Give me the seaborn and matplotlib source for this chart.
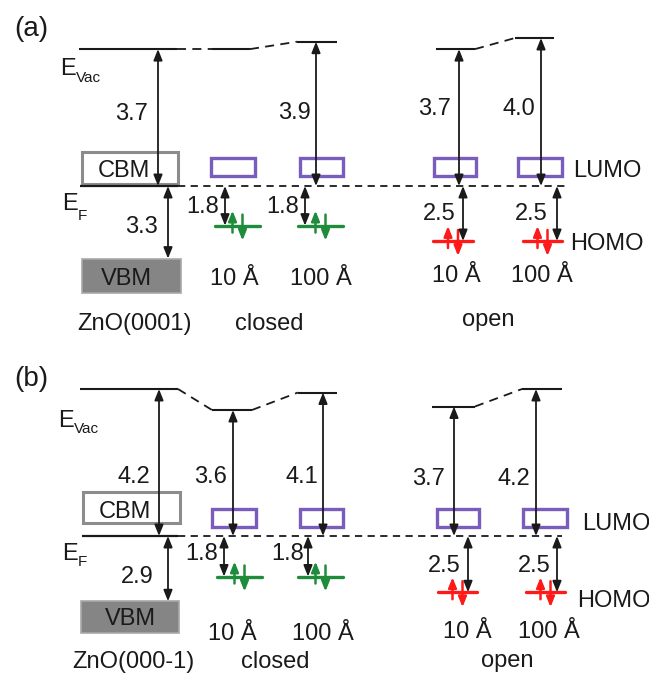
import numpy as np
import pandas as pd
import matplotlib
matplotlib.use("Agg")
import matplotlib.pyplot as plt
from matplotlib.patches import Rectangle
from matplotlib.transforms import offset_copy
import seaborn as sns

sns.set_theme(style="white")
plt.rcParams["font.family"] = ["Liberation Sans", "DejaVu Sans"]

# ---------------- energy values (eV) ----------------
stacks = ["ZnO", "closed", "closed", "open", "open"]
thickness_labels = ["10 Å", "100 Å", "10 Å", "100 Å"]
group_labels = ["closed", "open"]
work_fn_a = [3.7, 3.7, 3.9, 3.7, 4.0]      # E_vac - E_F
work_fn_b = [4.2, 3.6, 4.1, 3.7, 4.2]
homo_a = [1.8, 1.8, 2.5, 2.5]              # E_F - HOMO
homo_b = [1.8, 1.8, 2.5, 2.5]
vbm_a = 3.3                                # E_F - VBM
vbm_b = 2.9
substrate_a = "ZnO(0001)"
substrate_b = "ZnO(000-1)"

# ---------------- styling ----------------
PURPLE = "#7a5cbd"
GREEN = "#1e8c3a"
RED = "#ff1a1a"
FS = 17
W, H = 649, 674

fig = plt.figure(figsize=(W / 100, H / 100), dpi=100)

LUMO_RANGE = (0.27, 0.76)


def label(x, row, s, **kw):
    kw.setdefault("fontsize", FS)
    kw.setdefault("va", "baseline")
    fig.text(x / W, 1 - row / H, s, color="k", **kw)


def arrow(ax, x, e0, e1):
    ax.annotate("", xy=(x, e1), xytext=(x, e0),
                arrowprops=dict(arrowstyle="<|-|>,head_length=0.55,head_width=0.22",
                                mutation_scale=12, color="k", lw=1.3,
                                shrinkA=0, shrinkB=0))


def spin(ax, x, e, color, up):
    start, end = (-7, 15) if up else (11, -15)
    ax.annotate("", xy=(x, e),
                xycoords=offset_copy(ax.transData, x=0, y=end, units="dots"),
                xytext=(0, start - end), textcoords="offset pixels",
                arrowprops=dict(arrowstyle="-|>,head_length=0.6,head_width=0.24",
                                mutation_scale=10, color=color, lw=1.8,
                                shrinkA=0, shrinkB=0))


def draw_panel(p):
    top, bot = p["rows"]
    s_up, s_low = p["scale"]
    ef_row = p["ef_row"]
    ax = fig.add_axes([0, 1 - bot / H, 1, (bot - top) / H])

    def fwd(e):
        e = np.asarray(e, dtype=float)
        return np.where(e >= 0, e * s_up, e * s_low)

    def inv(t):
        t = np.asarray(t, dtype=float)
        return np.where(t >= 0, t / s_up, t / s_low)

    ax.set_yscale("function", functions=(fwd, inv))
    wf = p["wf"]
    homo = p["homo"]
    vbm = p["vbm"]

    # vacuum levels and their dashed connectors
    for i, (x0, x1) in enumerate(p["evac_x"]):
        ax.plot([x0, x1], [wf[i], wf[i]], color="k", lw=1.5, solid_capstyle="butt")
    for i, j in [(0, 1), (1, 2), (3, 4)]:
        ax.plot([p["evac_x"][i][1], p["evac_x"][j][0]], [wf[i], wf[j]],
                color="k", lw=1.3, ls=(0, (5, 3.5)))

    # Fermi level
    xs0, xs1 = p["ef_solid"]
    ax.plot([xs0, xs1], [0, 0], color="k", lw=1.6, solid_capstyle="butt")
    xd0, xd1 = p["ef_dash"]
    ax.plot([xd0, xd1], [0, 0], color="k", lw=1.3, ls=(0, (4, 3)))

    # ZnO bands
    cx0, cx1 = p["cbm_x"]
    c0, c1 = p["cbm_e"]
    ax.add_patch(Rectangle((cx0, c0), cx1 - cx0, c1 - c0, fill=False,
                           ec="#8c8c8c", lw=2.2))
    vx0, vx1 = p["vbm_x"]
    ax.add_patch(Rectangle((vx0, p["vbm_bottom"]), vx1 - vx0,
                           -vbm - p["vbm_bottom"], fc="#858585", ec="#a8a8a8", lw=1.2))

    # LUMO boxes
    for x0, x1 in p["lumo_x"]:
        ax.add_patch(Rectangle((x0, LUMO_RANGE[0]), x1 - x0,
                               LUMO_RANGE[1] - LUMO_RANGE[0], fill=False,
                               ec=PURPLE, lw=2.4))

    # HOMO levels
    rows = []
    for k, ((x0, x1), g) in enumerate(zip(p["homo_x"], homo)):
        kind = stacks[k + 1]
        rows += [dict(x=x0, E=-g, seg=k, kind=kind), dict(x=x1, E=-g, seg=k, kind=kind)]
    df = pd.DataFrame(rows)
    sns.lineplot(data=df, x="x", y="E", hue="kind", units="seg", estimator=None,
                 palette={"closed": GREEN, "open": RED}, lw=2.4, legend=False, ax=ax)
    for k, ((x0, x1), g) in enumerate(zip(p["homo_x"], homo)):
        col = GREEN if stacks[k + 1] == "closed" else RED
        xc = (x0 + x1) / 2
        spin(ax, xc - 5, -g, col, True)
        spin(ax, xc + 5, -g, col, False)

    # work-function arrows
    for i, x in enumerate(p["wf_arrow_x"]):
        if x is None:
            continue
        arrow(ax, x, 0, wf[i])
        lx, lrow = p["wf_label"][i]
        label(lx, lrow, f"{wf[i]:.1f}", ha="center")

    # HOMO offset arrows
    for k, x in enumerate(p["homo_arrow_x"]):
        arrow(ax, x, 0, -homo[k])
        lx, lrow = p["homo_label"][k]
        label(lx, lrow, f"{homo[k]:.1f}", ha="center")

    # VBM arrow
    arrow(ax, p["vbm_arrow_x"], 0, -vbm)
    label(*p["vbm_label"], f"{vbm:.1f}", ha="center")

    ax.set_xlim(0, W)
    ax.set_ylim(-(bot - ef_row) / s_low, (ef_row - top) / s_up)
    ax.set_axis_off()

    # text
    label(*p["tag"], p["tag_text"], ha="left", fontsize=20)
    label(*p["evac_E"], "E", ha="left")
    label(*p["evac_sub"], "Vac", ha="left", fontsize=11)
    label(*p["ef_E"], "E", ha="left")
    label(*p["ef_sub"], "F", ha="left", fontsize=11)
    label(*p["cbm_text"], "CBM", ha="center")
    label(*p["vbm_text"], "VBM", ha="center")
    for (lx, lrow), s in zip(p["thick_pos"], thickness_labels):
        label(lx, lrow, s, ha="center")
    for (lx, lrow), s in zip(p["group_pos"], group_labels):
        label(lx, lrow, s, ha="center")
    label(*p["sub_pos"], p["substrate"], ha="center")
    label(*p["lumo_text"], "LUMO", ha="left")
    label(*p["homo_text"], "HOMO", ha="left")


panel_a = dict(
    tag_text="(a)", rows=(0, 337), ef_row=186, scale=(37, 22),
    wf=work_fn_a, homo=homo_a, vbm=vbm_a, substrate=substrate_a,
    evac_x=[(79, 177), (212, 250), (297, 337), (436, 475), (515, 554)],
    wf_arrow_x=[158, None, 316, 459, 541],
    wf_label=[(132, 120), None, (294, 119), (435, 115), (519, 115)],
    lumo_x=[(211, 255), (300, 343), (434, 476), (518, 562)],
    homo_x=[(215, 260), (298, 343), (433, 473), (523, 562)],
    homo_arrow_x=[225, 305, 463, 557],
    homo_label=[(203, 213), (283, 213), (439, 220), (531, 220)],
    cbm_x=(82, 178), cbm_e=(0.05, 0.92),
    vbm_x=(82, 181), vbm_bottom=-4.86,
    vbm_arrow_x=168, vbm_label=(141, 233),
    ef_solid=(80, 178), ef_dash=(178, 567),
    evac_E=(60, 75), evac_sub=(76, 82),
    ef_E=(62, 210), ef_sub=(78, 220),
    cbm_text=(124, 177), vbm_text=(126, 285),
    thick_pos=[(234, 285), (321, 285), (456, 282), (542, 282)],
    group_pos=[(269, 330), (488, 326)],
    sub_pos=(135, 330),
    lumo_text=(573, 177), homo_text=(570, 250),
    tag=(14, 36),
)

panel_b = dict(
    tag_text="(b)", rows=(337, 674), ef_row=536, scale=(35, 22.5),
    wf=work_fn_b, homo=homo_b, vbm=vbm_b, substrate=substrate_b,
    evac_x=[(80, 178), (212, 252), (298, 337), (432, 475), (522, 562)],
    wf_arrow_x=[159, 233, 323, 454, 536],
    wf_label=[(134, 483), (211, 483), (302, 483), (429, 485), (514, 485)],
    lumo_x=[(212, 256), (300, 343), (437, 479), (523, 567)],
    homo_x=[(217, 262), (298, 343), (438, 477), (526, 565)],
    homo_arrow_x=[224, 308, 468, 557],
    homo_label=[(202, 560), (288, 560), (444, 572), (534, 572)],
    cbm_x=(83, 180), cbm_e=(0.37, 1.26),
    vbm_x=(81, 179), vbm_bottom=-4.31,
    vbm_arrow_x=168, vbm_label=(137, 583),
    ef_solid=(82, 178), ef_dash=(178, 562),
    evac_E=(58, 427), evac_sub=(74, 433),
    ef_E=(62, 560), ef_sub=(78, 566),
    cbm_text=(125, 518), vbm_text=(130, 625),
    thick_pos=[(232, 640), (323, 640), (467, 638), (549, 638)],
    group_pos=[(275, 668), (507, 667)],
    sub_pos=(133, 668),
    lumo_text=(582, 530), homo_text=(577, 607),
    tag=(14, 386),
)

draw_panel(panel_a)
draw_panel(panel_b)

fig.savefig("out.png", dpi=100, facecolor="white")
